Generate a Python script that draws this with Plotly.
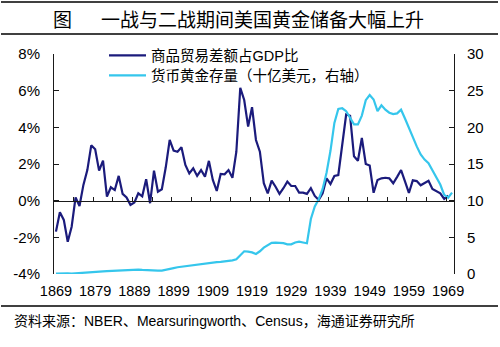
import plotly.graph_objects as go

# ---------------- data ----------------
years = list(range(1869, 1971))

trade_years = list(range(1869, 1970))
trade_balance_pct = [
    -1.69, -0.63, -1.05, -2.24, -1.42, 0.18, -0.29, 0.86, 1.67, 3.02,   # 1869-1878
    2.80, 1.64, 2.18, 0.22, 0.73, 0.58, 1.35, 0.37, 0.18, -0.23,        # 1879-1888
    -0.10, 0.40, 0.24, 1.17, -0.14, 1.64, 0.49, 0.62, 1.82, 3.31,       # 1889-1898
    2.73, 2.67, 2.91, 1.95, 1.49, 1.77, 1.35, 1.67, 1.31, 2.17,         # 1899-1908
    1.13, 0.53, 1.46, 1.44, 1.67, 1.25, 2.67, 6.15, 5.49, 4.04,         # 1909-1918
    5.10, 3.31, 2.67, 0.95, 0.40, 1.09, 0.76, 0.37, 0.68, 1.04,         # 1919-1928
    0.80, 0.80, 0.44, 0.44, 0.37, 0.68, 0.26, 0.04, 0.40, 1.22,         # 1929-1938
    0.91, 1.35, 1.40, 3.00, 4.70, 4.63, 2.42, 2.18, 3.42, 2.00,         # 1939-1948
    1.92, 0.43, 1.13, 1.22, 1.25, 1.22, 0.95, 1.30, 1.67, 1.05,         # 1949-1958
    0.42, 1.11, 1.07, 0.84, 0.98, 1.08, 0.64, 0.52, 0.40, 0.10,         # 1959-1968
    0.27,                                                               # 1969
]

gold_stock_bn = [
    0.05, 0.10, 0.15, 0.10, 0.05, 0.10, 0.08, 0.12, 0.15, 0.20,         # 1869-1878
    0.25, 0.30, 0.35, 0.38, 0.42, 0.45, 0.50, 0.52, 0.55, 0.58,         # 1879-1888
    0.60, 0.60, 0.55, 0.50, 0.45, 0.45, 0.45, 0.47, 0.55, 0.68,         # 1889-1898
    0.80, 0.92, 1.00, 1.05, 1.10, 1.20, 1.30, 1.35, 1.42, 1.55,         # 1899-1908
    1.60, 1.62, 1.66, 1.70, 1.75, 1.85, 2.00, 2.60, 3.10, 3.05,         # 1909-1918
    2.95, 2.73, 3.10, 3.60, 3.95, 4.25, 4.27, 4.27, 4.20, 4.05,         # 1919-1928
    4.05, 4.30, 4.42, 4.30, 4.19, 7.50, 9.20, 10.20, 11.60, 13.80,      # 1929-1938
    16.80, 20.60, 22.50, 22.60, 22.20, 21.30, 20.40, 20.40, 21.60, 23.70,  # 1939-1948
    24.40, 23.80, 22.20, 23.00, 22.40, 22.00, 21.80, 21.90, 22.40, 21.20,  # 1949-1958
    19.90, 18.80, 17.40, 16.30, 15.60, 15.10, 14.20, 13.30, 12.20, 10.80,  # 1959-1968
    10.40, 11.10,                                                       # 1969-1970
]

x_tick_years = list(range(1869, 1970, 10))
left_tick_vals = [-4, -2, 0, 2, 4, 6, 8]
left_tick_text = ["-4%", "-2%", "0%", "2%", "4%", "6%", "8%"]
right_tick_vals = [0, 5, 10, 15, 20, 25, 30]
zero_axis_ticks = [1868.5 + 5 * k for k in range(1, 21)]

name_trade = "商品贸易差额占GDP比"
name_gold = "货币黄金存量（十亿美元，右轴）"
title_mark = "图"
title_text = "一战与二战期间美国黄金储备大幅上升"
source_text = "资料来源：NBER、Mearsuringworth、Census，海通证券研究所"

# ---------------- layout geometry ----------------
W, H = 500, 347
L, R, T, B = 54, 454, 54, 274
pw, ph = R - L, B - T


def px(x):
    return (x - L) / pw


def py(y):
    return (B - y) / ph


DARK = "#1B1B7C"
LIGHT = "#35C6EC"
AXIS = "#1a1a1a"
FONT = "Liberation Sans, Arial, Noto Sans CJK SC, sans-serif"
CJK = "Noto Sans CJK SC, sans-serif"

fig = go.Figure()

fig.add_trace(go.Scatter(
    x=trade_years, y=trade_balance_pct, name=name_trade, mode="lines",
    line=dict(color=DARK, width=2.2), xaxis="x", yaxis="y", legend="legend",
))
fig.add_trace(go.Scatter(
    x=years, y=gold_stock_bn, name=name_gold, mode="lines",
    line=dict(color=LIGHT, width=2.2), xaxis="x", yaxis="y2", legend="legend2",
))
# carrier for the zero-line category axis
fig.add_trace(go.Scatter(
    x=[years[0]], y=[None], xaxis="x2", yaxis="y", showlegend=False,
    hoverinfo="skip", mode="lines",
))

legend_common = dict(
    xanchor="left", yanchor="top", bgcolor="rgba(0,0,0,0)", borderwidth=0,
    font=dict(family=FONT, size=14.5, color="#000000"), itemwidth=37,
)

fig.update_layout(
    width=W, height=H,
    margin=dict(l=L, r=W - R, t=T, b=H - B, pad=0),
    paper_bgcolor="white", plot_bgcolor="white",
    font=dict(family=FONT, size=14.5, color="#000000"),
    showlegend=True,
    legend=dict(x=px(104), y=py(39.5), **legend_common),
    legend2=dict(x=px(104), y=py(59.5), **legend_common),
    xaxis=dict(
        range=[1868.5, 1970.5], tickmode="array", tickvals=x_tick_years,
        ticks="", showline=False, showgrid=False, zeroline=False,
        tickfont=dict(size=14.5), ticklabelstandoff=6,
    ),
    xaxis2=dict(
        range=[1868.5, 1970.5], overlaying="x", anchor="free", position=py(200.7),
        side="bottom", tickmode="array", tickvals=zero_axis_ticks,
        ticks="inside", ticklen=4, tickcolor=AXIS, showticklabels=False,
        showline=True, linecolor=AXIS, linewidth=1, showgrid=False, zeroline=False,
    ),
    yaxis=dict(
        range=[-4, 8], tickmode="array", tickvals=left_tick_vals, ticktext=left_tick_text,
        ticks="inside", ticklen=5, tickcolor=AXIS, showline=True, linecolor=AXIS,
        linewidth=1, showgrid=False, zeroline=False, ticklabelstandoff=10,
        tickfont=dict(size=15),
    ),
    yaxis2=dict(
        range=[0, 30], overlaying="y", side="right", tickmode="array",
        tickvals=right_tick_vals, ticks="inside", ticklen=5, tickcolor=AXIS,
        showline=True, linecolor=AXIS, linewidth=1, showgrid=False, zeroline=False,
        ticklabelstandoff=9, tickfont=dict(size=15),
    ),
)

# title lines and texts
for yy in (2, 34, 306):
    fig.add_shape(type="line", xref="paper", yref="paper",
                  x0=px(1), x1=px(498), y0=py(yy), y1=py(yy),
                  line=dict(color="#000000", width=1.3))

fig.add_annotation(text=title_mark, xref="paper", yref="paper", x=px(62), y=py(18),
                   xanchor="center", yanchor="middle", showarrow=False,
                   font=dict(family=CJK, size=19, color="#000000"))
fig.add_annotation(text=title_text, xref="paper", yref="paper", x=px(99), y=py(18),
                   xanchor="left", yanchor="middle", showarrow=False,
                   font=dict(family=CJK, size=19, color="#000000"))
fig.add_annotation(text=source_text, xref="paper", yref="paper", x=px(12), y=py(321),
                   xanchor="left", yanchor="middle", showarrow=False,
                   font=dict(family=FONT, size=14, color="#000000"))

fig.write_html("out.html")
